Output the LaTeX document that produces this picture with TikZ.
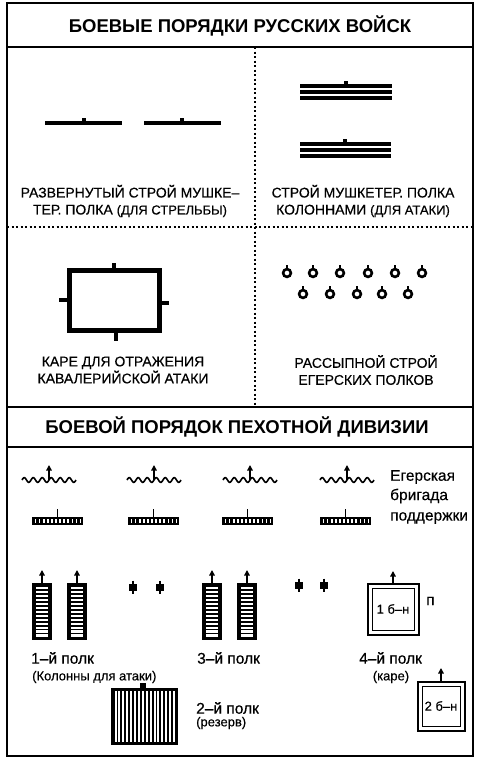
\documentclass[tikz,border=0pt]{standalone}
\usepackage{fontspec}
\setmainfont{Liberation Sans}
\newfontfamily\medfont{Liberation Sans}[FakeBold=0.4]
\usetikzlibrary{arrows.meta}

\begin{document}
\begin{tikzpicture}[x=1pt, y=-1pt, >={Triangle[length=5.5pt, width=5.5pt]},
  every node/.style={inner sep=0pt},
  headtxt/.style={font=\bfseries\fontsize{18.5}{20}\selectfont},
  captxt/.style={font=\medfont\fontsize{14}{17}\selectfont, align=center},
  lbltxt/.style={font=\medfont\fontsize{15.5}{17}\selectfont, anchor=west},
  smalltxt/.style={font=\medfont\fontsize{13}{15}\selectfont, anchor=west},
  dotsep/.style={line width=1.2pt, dash pattern=on 2pt off 2.5pt},
  rankline/.style={line width=3.3pt}]
  \useasboundingbox (0,0) rectangle (480,763);

  % Frame and separators
  \draw[line width=1.5pt] (7,3) rectangle (473,756);
  \draw[line width=1.5pt] (7,47) -- (473,47);
  \draw[line width=1.5pt] (7,407) -- (473,407);
  \draw[line width=1.5pt] (7,447) -- (473,447);
  \draw[dotsep] (255,47) -- (255,407);
  \draw[dotsep] (7,227) -- (473,227);

  % Headings
  \node[headtxt] (titleTop) at (240,26) {БОЕВЫЕ ПОРЯДКИ РУССКИХ ВОЙСК};
  \node[headtxt] (titleDiv) at (237,427) {БОЕВОЙ ПОРЯДОК ПЕХОТНОЙ ДИВИЗИИ};

  % Deployed line
  \draw[rankline] (45,123) -- (122,123);
  \fill (82,118) rectangle (86,123);
  \draw[rankline] (144,123) -- (221,123);
  \fill (180,118) rectangle (184,123);
  \node[captxt] (capDeploy) at (130,201)
    {РАЗВЕРНУТЫЙ СТРОЙ МУШКЕ–\\ТЕР. ПОЛКА {\fontsize{13}{14}\selectfont(ДЛЯ СТРЕЛЬБЫ)}};

  % Columns
  \foreach \ly in {86,92,98} \draw[rankline] (300,\ly) -- (392,\ly);
  \fill (344,81) rectangle (348,86);
  \foreach \ly in {144,150,156} \draw[rankline] (300,\ly) -- (391,\ly);
  \fill (343,139) rectangle (347,144);
  \node[captxt] (capColumns) at (363,201)
    {СТРОЙ МУШКЕТЕР. ПОЛКА\\КОЛОННАМИ {\fontsize{13}{14}\selectfont(ДЛЯ АТАКИ)}};

  % Square
  \draw[line width=5pt] (69.5,270.5) rectangle (159.5,330.5);
  \fill (112,263) rectangle (116,268);
  \fill (114,333) rectangle (118,341);
  \fill (59,298) rectangle (67,302);
  \fill (162,301) rectangle (169,305);
  \node[captxt] (capSquare) at (123,370)
    {КАРЕ ДЛЯ ОТРАЖЕНИЯ\\КАВАЛЕРИЙСКОЙ АТАКИ};

  % Skirmishers
  \foreach \rx in {287,313,340,368,395,422} {
    \draw[line width=2.6pt] (\rx,273) circle (3.9);
    \draw[line width=2pt] (\rx,269) -- (\rx,264.5);
  }
  \foreach \rx in {303,330,357,382,408} {
    \draw[line width=2.6pt] (\rx,294) circle (3.9);
    \draw[line width=2pt] (\rx,290) -- (\rx,285.5);
  }
  \node[captxt] (capLoose) at (366,370)
    {РАССЫПНОЙ СТРОЙ\\ЕГЕРСКИХ ПОЛКОВ};

  % Jaeger brigade: chains and support
  \foreach \wx in {22,127,223,320} {
    \draw[line width=1.6pt] plot[domain=0:54, samples=80, smooth]
      ({\wx+\x},{480-2.4*sin(\x*40)});
    \draw[->, line width=1.7pt] (\wx+27,480) -- (\wx+27,465);
  }
  \foreach \bx in {32,128,222,320} {
    \fill (\bx,516.5) rectangle (\bx+51,525);
    \foreach \k in {0,...,11}
      \fill[white] (\bx+2.6+\k*4.1,519.3) rectangle (\bx+4.3+\k*4.1,522.7);
    \draw[line width=1.8pt] (\bx+25.5,517) -- (\bx+25.5,509);
  }
  \node[lbltxt] (lblJaeger) at (390,477) {Егерская};
  \node[lbltxt] (lblBrigade) at (390,496) {бригада};
  \node[lbltxt] (lblSupport) at (390,518) {поддержки};

  % Regiments in attack columns
  \foreach \cx in {42,77,212,247} {
    \fill (\cx-10,583) rectangle (\cx+10,640);
    \foreach \k in {0,...,12}
      \fill[white] (\cx-6,587+\k*3.95) rectangle (\cx+6,589.2+\k*3.95);
    \draw[->, line width=1.7pt] (\cx,583) -- (\cx,570);
  }
  \foreach \cx/\cy in {133/587,160/587,299/585,324/585} {
    \fill (\cx-4,\cy-3) rectangle (\cx+4,\cy+3.5);
    \draw[line width=2pt] (\cx,\cy-6.5) -- (\cx,\cy+6.5);
  }
  \node[lbltxt] (lblFirst) at (31,658) {1–й полк};
  \node[smalltxt] (lblFirstNote) at (32,677) {(Колонны для атаки)};
  \node[lbltxt] (lblThird) at (197,658) {3–й полк};

  % Reserve
  \fill (111,688) rectangle (178,745);
  \foreach \k in {0,...,15}
    \fill[white] (114.5+\k*3.9,691) rectangle (116.5+\k*3.9,742);
  \fill (140,683) rectangle (146,688);
  \node[lbltxt] (lblSecond) at (196,708) {2–й полк};
  \node[smalltxt] (lblSecondNote) at (196,723) {(резерв)};

  % Regiment in squares
  \draw[line width=2.2pt] (368,584) rectangle (419,635);
  \draw[line width=1.6pt] (372.5,588.5) rectangle (414.5,630.5);
  \draw[->, line width=1.7pt] (393,583) -- (393,571);
  \node[font=\medfont\fontsize{13}{15}\selectfont] (bnOne) at (393,609) {1 б–н};
  \node[lbltxt] (lblP) at (426,601) {п};
  \draw[line width=2.2pt] (418,682) rectangle (465,731);
  \draw[line width=1.6pt] (422.5,686.5) rectangle (460.5,726.5);
  \draw[->, line width=1.7pt] (441,681) -- (441,668);
  \node[font=\medfont\fontsize{13}{15}\selectfont] (bnTwo) at (441,706) {2 б–н};
  \node[lbltxt] (lblFourth) at (359,658) {4–й полк};
  \node[font=\medfont\fontsize{13}{15}\selectfont] (lblFourthNote) at (391,677) {(каре)};
\end{tikzpicture}
\end{document}
